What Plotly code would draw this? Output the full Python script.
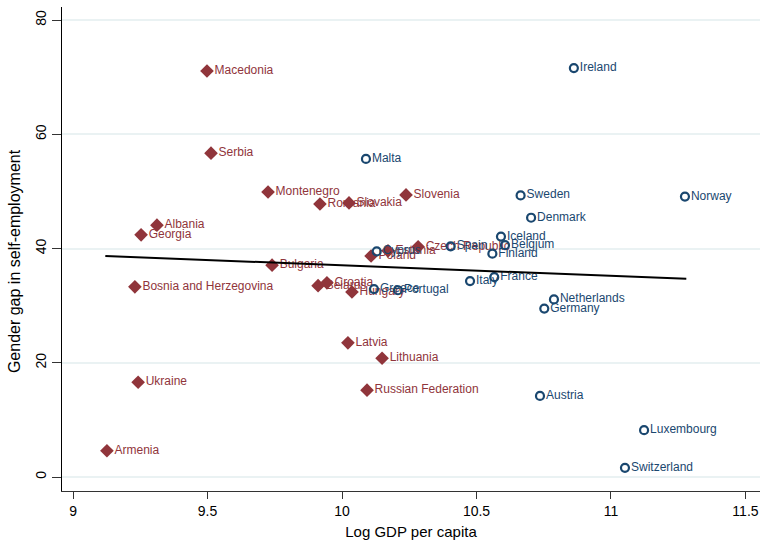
import plotly.graph_objects as go

# Transition economies (red diamonds)
red_names = ["Macedonia", "Serbia", "Montenegro", "Romania", "Slovakia", "Slovenia",
             "Albania", "Georgia", "Bulgaria", "Bosnia and Herzegovina", "Belarus",
             "Croatia", "Hungary", "Latvia", "Lithuania", "Russian Federation",
             "Ukraine", "Armenia", "Poland", "Estonia", "Czech Republic"]
red_x = [9.498, 9.513, 9.725, 9.918, 10.026, 10.238,
         9.312, 9.253, 9.740, 9.230, 9.911,
         9.944, 10.037, 10.022, 10.149, 10.093,
         9.242, 9.126, 10.108, 10.171, 10.283]
red_y = [71.1, 56.7, 49.9, 47.8, 48.0, 49.4,
         44.1, 42.4, 37.1, 33.3, 33.5,
         34.0, 32.4, 23.5, 20.8, 15.2,
         16.6, 4.6, 38.7, 39.6, 40.3]

# Western economies (blue hollow circles)
blue_names = ["Ireland", "Malta", "Sweden", "Norway", "Denmark", "Iceland", "Belgium",
              "Finland", "Spain", "Cyprus", "Greece", "Portugal", "Italy", "France",
              "Netherlands", "Germany", "Austria", "Luxembourg", "Switzerland"]
blue_x = [10.862, 10.089, 10.664, 11.275, 10.703, 10.591, 10.606,
          10.559, 10.404, 10.129, 10.119, 10.208, 10.476, 10.566,
          10.788, 10.752, 10.736, 11.123, 11.052]
blue_y = [71.6, 55.7, 49.3, 49.1, 45.4, 42.1, 40.6,
          39.1, 40.4, 39.5, 32.9, 32.7, 34.3, 35.0,
          31.1, 29.5, 14.2, 8.2, 1.6]

# Fitted line endpoints
fit_x = [9.12, 11.28]
fit_y = [38.7, 34.7]

x_ticks = [9, 9.5, 10, 10.5, 11, 11.5]
y_ticks = [0, 20, 40, 60, 80]

RED = "#90353b"
BLUE = "#1a476f"
FONT = "Liberation Sans, Arial, sans-serif"

fig = go.Figure()
fig.add_trace(go.Scatter(
    x=red_x, y=red_y, text=red_names, mode="markers+text",
    textposition="middle right",
    marker=dict(symbol="diamond", size=10.5, color=RED, line=dict(width=0)),
    textfont=dict(color=RED, size=12, family=FONT),
    showlegend=False, cliponaxis=False))
fig.add_trace(go.Scatter(
    x=blue_x, y=blue_y, text=blue_names, mode="markers+text",
    textposition="middle right",
    marker=dict(symbol="circle-open", size=8, color=BLUE, line=dict(width=2.2, color=BLUE)),
    textfont=dict(color=BLUE, size=12, family=FONT),
    showlegend=False, cliponaxis=False))
fig.add_trace(go.Scatter(
    x=fit_x, y=fit_y, mode="lines",
    line=dict(color="black", width=2), showlegend=False))

fig.update_layout(
    width=762, height=540,
    margin=dict(l=62, r=2, t=7, b=49),
    paper_bgcolor="white", plot_bgcolor="white",
    font=dict(family=FONT, color="black", size=14),
    annotations=[dict(
        text="Gender gap in self-employment", textangle=-90,
        xref="paper", yref="paper", x=0, y=0.475, xshift=-48,
        xanchor="center", yanchor="middle", showarrow=False,
        font=dict(size=16, family=FONT, color="black"))],
)
fig.update_xaxes(
    range=[8.959, 11.554], tickvals=x_ticks, ticktext=[str(v) for v in x_ticks],
    showline=True, linecolor="#333333", linewidth=1.2, ticks="outside", ticklen=7,
    tickcolor="#333333", showgrid=False, zeroline=False, automargin=False,
    title=dict(text="Log GDP per capita", font=dict(size=15)),
    tickfont=dict(size=14))
fig.update_yaxes(
    range=[-2.45, 82.3], tickvals=y_ticks, tickangle=-90, automargin=False,
    showline=True, linecolor="black", linewidth=1.2, ticks="outside", ticklen=9,
    tickcolor="#333333", showgrid=True, gridcolor="#eaf2f3", gridwidth=1.5,
    zeroline=False, tickfont=dict(size=14))

fig.write_html("out.html", config={"displayModeBar": False},
               post_script="document.body.style.margin='0';document.body.style.overflow='hidden';")
